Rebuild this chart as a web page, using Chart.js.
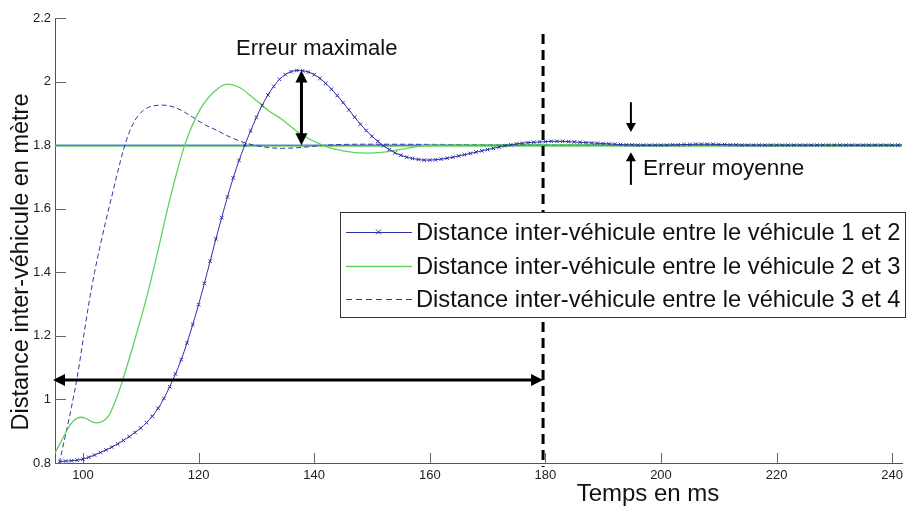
<!DOCTYPE html>
<html>
<head>
<meta charset="utf-8">
<script src="https://cdn.jsdelivr.net/npm/chart.js@4.4.1/dist/chart.umd.min.js"></script>
<style>
  html, body { margin: 0; padding: 0; background: #fff; }
  #wrap { width: 907px; height: 508px; }
</style>
</head>
<body>
<div id="wrap"><canvas id="c" width="907" height="508"></canvas></div>
<script>
// Axis ticks
const xTicks = [100, 120, 140, 160, 180, 200, 220, 240];
const yTicks = [0.8, 1, 1.2, 1.4, 1.6, 1.8, 2, 2.2];
const yTickLabels = ['0.8', '1', '1.2', '1.4', '1.6', '1.8', '2', '2.2'];

const seriesNames = [
  'Distance inter-véhicule entre le véhicule 1 et 2',
  'Distance inter-véhicule entre le véhicule 2 et 3',
  'Distance inter-véhicule entre le véhicule 3 et 4'
];

// Gap between vehicles 1 and 2, sampled every millisecond from t = 96 ms
const gap12Start = 96;
const gap12 = [
  0.805, 0.806, 0.807, 0.809, 0.812, 0.818, 0.825, 0.833, 0.841, 0.850,
  0.860, 0.871, 0.883, 0.896, 0.910, 0.927, 0.947, 0.972, 1.003, 1.040,
  1.080, 1.125, 1.178, 1.236, 1.298, 1.365, 1.435, 1.505, 1.572, 1.637,
  1.697, 1.752, 1.800, 1.845, 1.887, 1.925, 1.958, 1.985, 2.007, 2.022,
  2.031, 2.035, 2.034, 2.030, 2.022, 2.010, 1.994, 1.976, 1.956, 1.934,
  1.911, 1.888, 1.866, 1.846, 1.828, 1.812, 1.798, 1.786, 1.776, 1.768,
  1.762, 1.758, 1.755, 1.753, 1.753, 1.754, 1.756, 1.759, 1.762, 1.766,
  1.770, 1.774, 1.778, 1.782, 1.786, 1.790, 1.794, 1.798, 1.801, 1.804,
  1.806, 1.808, 1.809, 1.810, 1.811, 1.812, 1.812, 1.812, 1.811, 1.810,
  1.809, 1.808, 1.807, 1.806, 1.805, 1.804, 1.803, 1.802, 1.801, 1.801,
  1.800, 1.800, 1.800, 1.800, 1.800, 1.800, 1.801, 1.801, 1.802, 1.802,
  1.803, 1.803, 1.803, 1.803, 1.802, 1.802, 1.801, 1.801, 1.800, 1.800,
  1.800, 1.800, 1.800, 1.800, 1.800, 1.800, 1.800, 1.800, 1.800, 1.800,
  1.800, 1.800, 1.800, 1.800, 1.800, 1.800, 1.800, 1.800, 1.800, 1.800,
  1.800, 1.800, 1.800, 1.800, 1.800, 1.800, 1.800
];
const gap12Times = gap12.map((_, i) => gap12Start + i);

// Gap between vehicles 2 and 3
const gap23Times = [95.1, 96, 97, 98, 99, 99.7, 100.5, 101.5, 102.4, 103.5, 104.5, 105.5, 106.6,
  108.6, 110.9, 113, 115, 117.6, 120.2, 122.5, 125, 127, 129.3, 132, 134.5, 137.4, 141.4,
  145, 149, 152, 156, 160, 170, 180, 200, 220, 242.1];
const gap23 = [0.83, 0.86, 0.895, 0.925, 0.941, 0.944, 0.94, 0.93, 0.926, 0.932, 0.95, 0.99, 1.045,
  1.165, 1.313, 1.47, 1.627, 1.8, 1.91, 1.965, 1.992, 1.982, 1.951, 1.91, 1.88, 1.838, 1.8,
  1.782, 1.775, 1.778, 1.79, 1.8, 1.801, 1.801, 1.8, 1.8, 1.8];

// Gap between vehicles 3 and 4
const gap34Times = [95.9, 97, 98, 99, 100, 101, 102, 103, 104, 105, 106, 107, 108, 109, 110, 111,
  112, 113.8, 116, 119, 121, 123.1, 125.5, 128.3, 131, 134.5, 138, 142, 150, 165, 180, 200, 242.1];
const gap34 = [0.80, 0.89, 0.975, 1.07, 1.185, 1.3, 1.4, 1.485, 1.565, 1.64, 1.715, 1.785, 1.84,
  1.878, 1.902, 1.916, 1.923, 1.926, 1.918, 1.888, 1.865, 1.847, 1.825, 1.806, 1.795, 1.79, 1.793,
  1.8, 1.803, 1.802, 1.801, 1.8, 1.8];

// Target spacing lines
const targetTimes = [95.1, 242.1];
const targetBlue = [1.8, 1.8];
const targetGreen = [1.797, 1.797];

// Annotation anchors, in data units
const settleTime = 179.6;
const settleTop = 2.15;
const settleSpanLevel = 1.061;
const maxErrTime = 137.8;
const maxErrTop = 2.035;
const maxErrBottom = 1.8;
const meanErrTime = 194.8;
const meanErrDown = [1.935, 1.841];
const meanErrUp = [1.675, 1.778];

const FONT = "'Liberation Sans', Arial, sans-serif";
const BLUE = '#2f2fa6';
const GREEN = '#5fd25f';
const NAVY_DASH = '#3535a8';

const pts = (xs, ys) => xs.map((x, i) => ({ x, y: ys[i] }));

function head(ctx, x, y, angle, len, half) {
  ctx.save();
  ctx.translate(x, y);
  ctx.rotate(angle);
  ctx.beginPath();
  ctx.moveTo(0, 0);
  ctx.lineTo(-len, -half);
  ctx.lineTo(-len, half);
  ctx.closePath();
  ctx.fill();
  ctx.restore();
}

function arrow(ctx, x1, y1, x2, y2, opts) {
  const { width, len, half, start, end } = opts;
  const a = Math.atan2(y2 - y1, x2 - x1);
  const sx = start ? x1 + Math.cos(a) * len * 0.8 : x1;
  const sy = start ? y1 + Math.sin(a) * len * 0.8 : y1;
  const ex = end ? x2 - Math.cos(a) * len * 0.8 : x2;
  const ey = end ? y2 - Math.sin(a) * len * 0.8 : y2;
  ctx.lineWidth = width;
  ctx.beginPath();
  ctx.moveTo(sx, sy);
  ctx.lineTo(ex, ey);
  ctx.stroke();
  if (end) head(ctx, x2, y2, a, len, half);
  if (start) head(ctx, x1, y1, a + Math.PI, len, half);
}

const decorations = {
  id: 'decorations',
  beforeDatasetsDraw(chart) {
    const { ctx, scales: { x, y }, chartArea: ca } = chart;
    ctx.save();
    // inward tick marks
    ctx.strokeStyle = '#666';
    ctx.lineWidth = 1;
    ctx.beginPath();
    xTicks.forEach(v => {
      const px = Math.round(x.getPixelForValue(v)) + 0.5;
      ctx.moveTo(px, ca.bottom);
      ctx.lineTo(px, ca.bottom - 10);
    });
    yTicks.forEach(v => {
      const py = Math.round(y.getPixelForValue(v)) + 0.5;
      ctx.moveTo(ca.left, py);
      ctx.lineTo(ca.left + 11, py);
    });
    ctx.stroke();
    ctx.restore();
  },
  afterDatasetsDraw(chart) {
    const { ctx, scales: { x, y }, chartArea: ca } = chart;
    ctx.save();
    ctx.fillStyle = '#000';
    ctx.strokeStyle = '#000';

    // settling time marker
    const sx = x.getPixelForValue(settleTime);
    ctx.lineWidth = 3;
    ctx.setLineDash([10, 6]);
    ctx.beginPath();
    ctx.moveTo(sx, y.getPixelForValue(settleTop));
    ctx.lineTo(sx, ca.bottom + 4);
    ctx.stroke();
    ctx.setLineDash([]);

    // settling span
    const hy = y.getPixelForValue(settleSpanLevel);
    arrow(ctx, ca.left - 2, hy, sx, hy, { width: 3, len: 12, half: 6, start: true, end: true });

    // maximal error
    const mx = x.getPixelForValue(maxErrTime);
    arrow(ctx, mx, y.getPixelForValue(maxErrTop), mx, y.getPixelForValue(maxErrBottom),
      { width: 3, len: 12, half: 6, start: true, end: true });

    // mean error
    const ex = x.getPixelForValue(meanErrTime);
    arrow(ctx, ex, y.getPixelForValue(meanErrDown[0]), ex, y.getPixelForValue(meanErrDown[1]),
      { width: 2, len: 9, half: 5, start: false, end: true });
    arrow(ctx, ex, y.getPixelForValue(meanErrUp[0]), ex, y.getPixelForValue(meanErrUp[1]),
      { width: 2, len: 9, half: 5, start: false, end: true });

    ctx.fillStyle = '#111';
    ctx.textBaseline = 'alphabetic';
    ctx.textAlign = 'left';
    ctx.font = '22px ' + FONT;
    ctx.fillText('Erreur maximale', 236, 55);
    ctx.font = '22.5px ' + FONT;
    ctx.fillText('Erreur moyenne', 643, 175);

    // legend
    const lx = 340, ly = 212, lw = 565, lh = 105;
    ctx.fillStyle = '#fff';
    ctx.fillRect(lx, ly, lw, lh);
    ctx.strokeStyle = '#333';
    ctx.lineWidth = 1;
    ctx.strokeRect(lx + 0.5, ly + 0.5, lw, lh);
    const rows = [232, 266, 299];
    const styles = [
      { c: BLUE, dash: [], mark: true, w: 1 },
      { c: GREEN, dash: [], mark: false, w: 1.3 },
      { c: NAVY_DASH, dash: [6, 4], mark: false, w: 1 }
    ];
    rows.forEach((ry, i) => {
      const s = styles[i];
      ctx.strokeStyle = s.c;
      ctx.lineWidth = s.w;
      ctx.setLineDash(s.dash);
      ctx.beginPath();
      ctx.moveTo(346, ry + 0.5);
      ctx.lineTo(412, ry + 0.5);
      ctx.stroke();
      ctx.setLineDash([]);
      if (s.mark) {
        ctx.beginPath();
        ctx.moveTo(376, ry - 2.5); ctx.lineTo(381, ry + 2.5);
        ctx.moveTo(376, ry + 2.5); ctx.lineTo(381, ry - 2.5);
        ctx.stroke();
      }
      ctx.fillStyle = '#111';
      ctx.font = '23.7px ' + FONT;
      ctx.textBaseline = 'middle';
      ctx.fillText(seriesNames[i], 416, ry + 1);
    });

    // axis titles
    ctx.fillStyle = '#111';
    ctx.font = '24px ' + FONT;
    ctx.textAlign = 'center';
    ctx.textBaseline = 'middle';
    ctx.fillText('Temps en ms', 648, 494);
    ctx.font = '23.5px ' + FONT;
    ctx.save();
    ctx.translate(22, 262);
    ctx.rotate(-Math.PI / 2);
    ctx.fillText('Distance inter-véhicule en mètre', 0, 0);
    ctx.restore();

    ctx.restore();
  }
};

new Chart(document.getElementById('c'), {
  type: 'line',
  data: {
    datasets: [
      {
        label: 'cible 1',
        data: pts(targetTimes, targetGreen),
        borderColor: GREEN, borderWidth: 1.5, pointRadius: 0, order: 5
      },
      {
        label: 'cible 2',
        data: pts(targetTimes, targetBlue),
        borderColor: '#5f7fd8', borderWidth: 1.5, pointRadius: 0, order: 4
      },
      {
        label: seriesNames[2],
        data: pts(gap34Times, gap34),
        borderColor: NAVY_DASH, borderWidth: 1, borderDash: [5, 3],
        pointRadius: 0, cubicInterpolationMode: 'monotone', order: 3
      },
      {
        label: seriesNames[1],
        data: pts(gap23Times, gap23),
        borderColor: GREEN, borderWidth: 1.3,
        pointRadius: 0, cubicInterpolationMode: 'monotone', order: 2
      },
      {
        label: seriesNames[0],
        data: pts(gap12Times, gap12),
        borderColor: BLUE, borderWidth: 1,
        pointStyle: 'crossRot', pointRadius: 2.5, pointBorderWidth: 1,
        pointBorderColor: BLUE, pointBackgroundColor: BLUE,
        cubicInterpolationMode: 'monotone', order: 1
      }
    ]
  },
  options: {
    responsive: false,
    animation: false,
    layout: { padding: { top: 18, right: 0, left: 0, bottom: 0 } },
    plugins: { legend: { display: false }, tooltip: { enabled: false } },
    scales: {
      x: {
        type: 'linear', min: 95.16, max: 241.7,
        afterBuildTicks: s => { s.ticks = xTicks.map(v => ({ value: v })); },
        afterFit: s => {
          s.height = 45;
          s.paddingLeft = 0; s.paddingRight = 0;
        },
        grid: { display: true, drawOnChartArea: false, drawTicks: false },
        border: { display: true, color: '#555', width: 1 },
        ticks: {
          font: { family: FONT, size: 13 }, color: '#222', padding: 5,
          maxRotation: 0, autoSkip: false
        }
      },
      y: {
        type: 'linear', min: 0.8, max: 2.2,
        afterBuildTicks: s => { s.ticks = yTicks.map(v => ({ value: v })); },
        afterFit: s => {
          s.width = 55;
          s.paddingTop = 0; s.paddingBottom = 0;
        },
        grid: { display: true, drawOnChartArea: false, drawTicks: false },
        border: { display: true, color: '#555', width: 1 },
        ticks: {
          font: { family: FONT, size: 13 }, color: '#222', padding: 4,
          autoSkip: false,
          callback: (v, i) => yTickLabels[i]
        }
      }
    }
  },
  plugins: [decorations]
});
</script>
</body>
</html>
